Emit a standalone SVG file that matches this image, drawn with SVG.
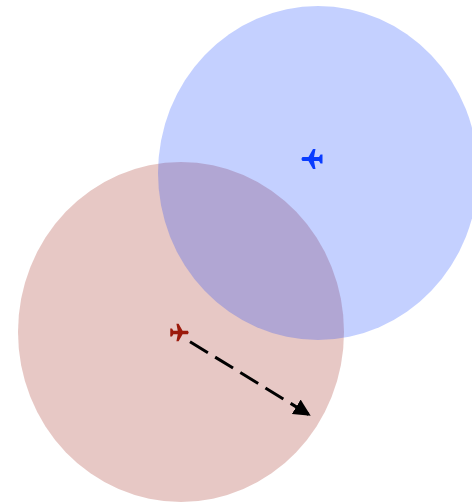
<svg xmlns="http://www.w3.org/2000/svg" width="472" height="503" viewBox="0 0 472 503">
<style>
.red{fill:#9c1a0c}
.blue{fill:#0a3cff}
.zone{fill-opacity:.24}
</style>
<defs>
<path id="plane" d="M-9.5,-2 L-3.5,-2 L1,-10 L3.5,-10 L2,-2 L7,-2 L8.5,-4.5 L10.5,-4.5 L10.5,4.5 L8.5,4.5 L7,2 L2,2 L3.5,10 L1,10 L-3.5,2 L-9.5,2 Q-11.5,0 -9.5,-2 Z"/>
<marker id="arrow" markerUnits="userSpaceOnUse" markerWidth="18" markerHeight="18" refX="17" refY="9" orient="auto" viewBox="0 0 18 18"><path d="M0,0.5 L17,9 L0,17.5 Z" fill="#000"/></marker>
</defs>
<rect width="472" height="503" fill="#fff"/>
<g id="red-zone"><ellipse class="red zone" cx="181" cy="332" rx="163" ry="170"/></g>
<g id="blue-zone"><ellipse class="blue zone" cx="318" cy="173" rx="160" ry="167"/></g>
<g id="blue-plane"><use href="#plane" class="blue" transform="translate(312,159)"/></g>
<g id="red-plane"><use href="#plane" class="red" transform="translate(179.5,332.5) scale(-.88,.88)"/></g>
<g id="connectors"><path d="M190,341.7 L310.7,415.7" fill="none" stroke="#000" stroke-width="3" stroke-dasharray="21 8.5" marker-end="url(#arrow)"/></g>
</svg>
